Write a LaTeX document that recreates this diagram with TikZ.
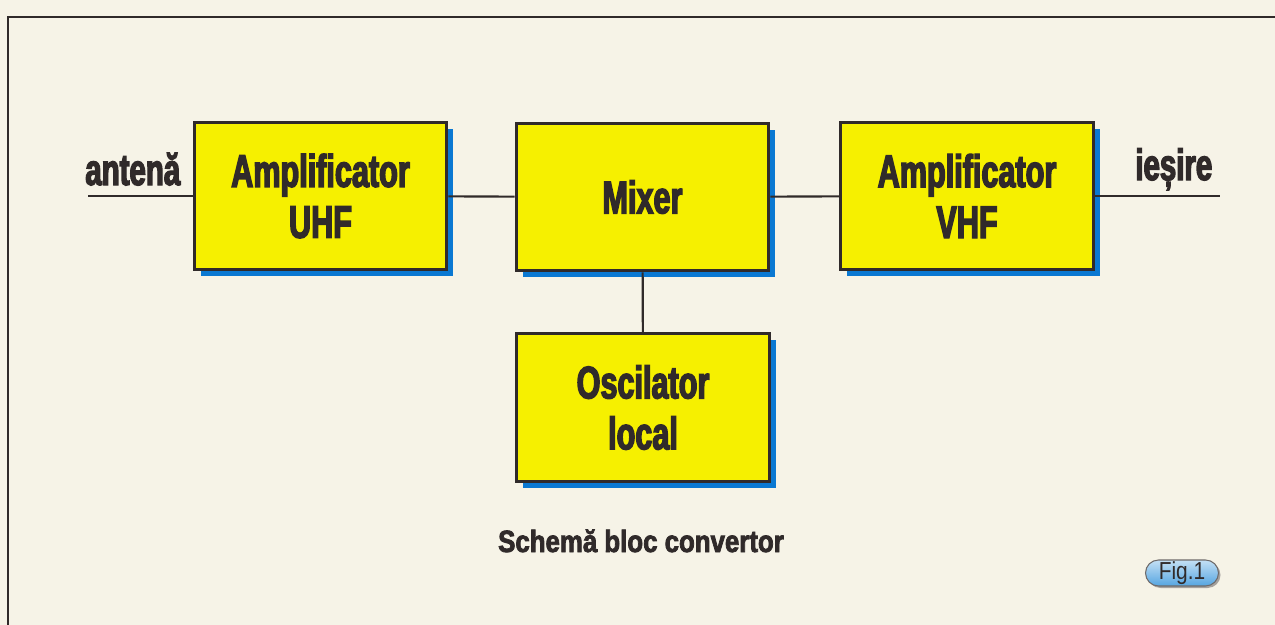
\documentclass[tikz,border=0pt]{standalone}
\usepackage{fontspec}
\setmainfont{Liberation Sans}[FakeStretch=0.67, BoldFeatures={FakeBold=3}]
\newfontfamily\capfont{Liberation Sans}[FakeStretch=0.84, BoldFeatures={FakeBold=2.5}]
\newfontfamily\figfont{Liberation Sans}[FakeStretch=0.85]
\usetikzlibrary{shadows}
\definecolor{paper}{RGB}{246,243,231}
\definecolor{boxyellow}{RGB}{246,240,0}
\definecolor{shadowblue}{RGB}{10,120,210}
\definecolor{ink}{RGB}{48,42,42}
\definecolor{pillblue}{RGB}{85,165,225}
\tikzset{
  block/.style={draw=ink, line width=1.7pt, fill=boxyellow, minimum width=5.06cm, minimum height=2.96cm,
    align=center, text=ink, font=\fontsize{26}{29}\selectfont\bfseries,
    drop shadow={shadow xshift=0.13cm, shadow yshift=-0.13cm, fill=shadowblue, opacity=1}},
  wire/.style={draw=ink, line width=1.2pt},
  label/.style={text=ink, font=\fontsize{25}{28}\selectfont\bfseries}
}
\begin{document}
\begin{tikzpicture}[x=0.02cm, y=-0.02cm]
  \fill[paper] (0,0) rectangle (1275,625);
  \useasboundingbox (0,0) rectangle (1275,625);
  \draw[ink, line width=1pt] (1275,17) -- (8,17) -- (8,625);
  \node [block] (uhf) at (320.5,196) {Amplificator\\UHF};
  \node [block] (mix) at (642.5,197) {Mixer};
  \node [block] (vhf) at (967,196) {Amplificator\\VHF};
  \node [block] (osc) at (643,407.5) {Oscilator\\local};
  \coordinate (in) at (88,196);
  \coordinate (out) at (1220,196);
  \node [label, anchor=base west, inner sep=0pt] (ant) at (85,185) {antenă};
  \node [label, anchor=base west, inner sep=0pt] (ies) at (1135,180) {ieșire};
  \draw [wire] (in) -- (uhf);
  \draw [wire] (uhf) -- (mix);
  \draw [wire] (mix) -- (vhf);
  \draw [wire] (vhf) -- (out);
  \draw [wire] (mix) -- (osc);
  \node [text=ink, anchor=base, inner sep=0pt, font=\capfont\fontsize{17.5}{20}\selectfont\bfseries] (cap) at (641,552) {Schemă bloc convertor};
  \node [draw=ink!70, line width=0.6pt, top color=pillblue!35, bottom color=pillblue, rounded corners=0.26cm,
    minimum width=1.46cm, minimum height=0.52cm, inner sep=0pt, text=ink, font=\figfont\fontsize{14}{16}\selectfont,
    drop shadow={shadow xshift=0.04cm, shadow yshift=-0.04cm, fill=ink!60, opacity=0.7}] (fig) at (1182,573) {Fig.1};
\end{tikzpicture}
\end{document}
